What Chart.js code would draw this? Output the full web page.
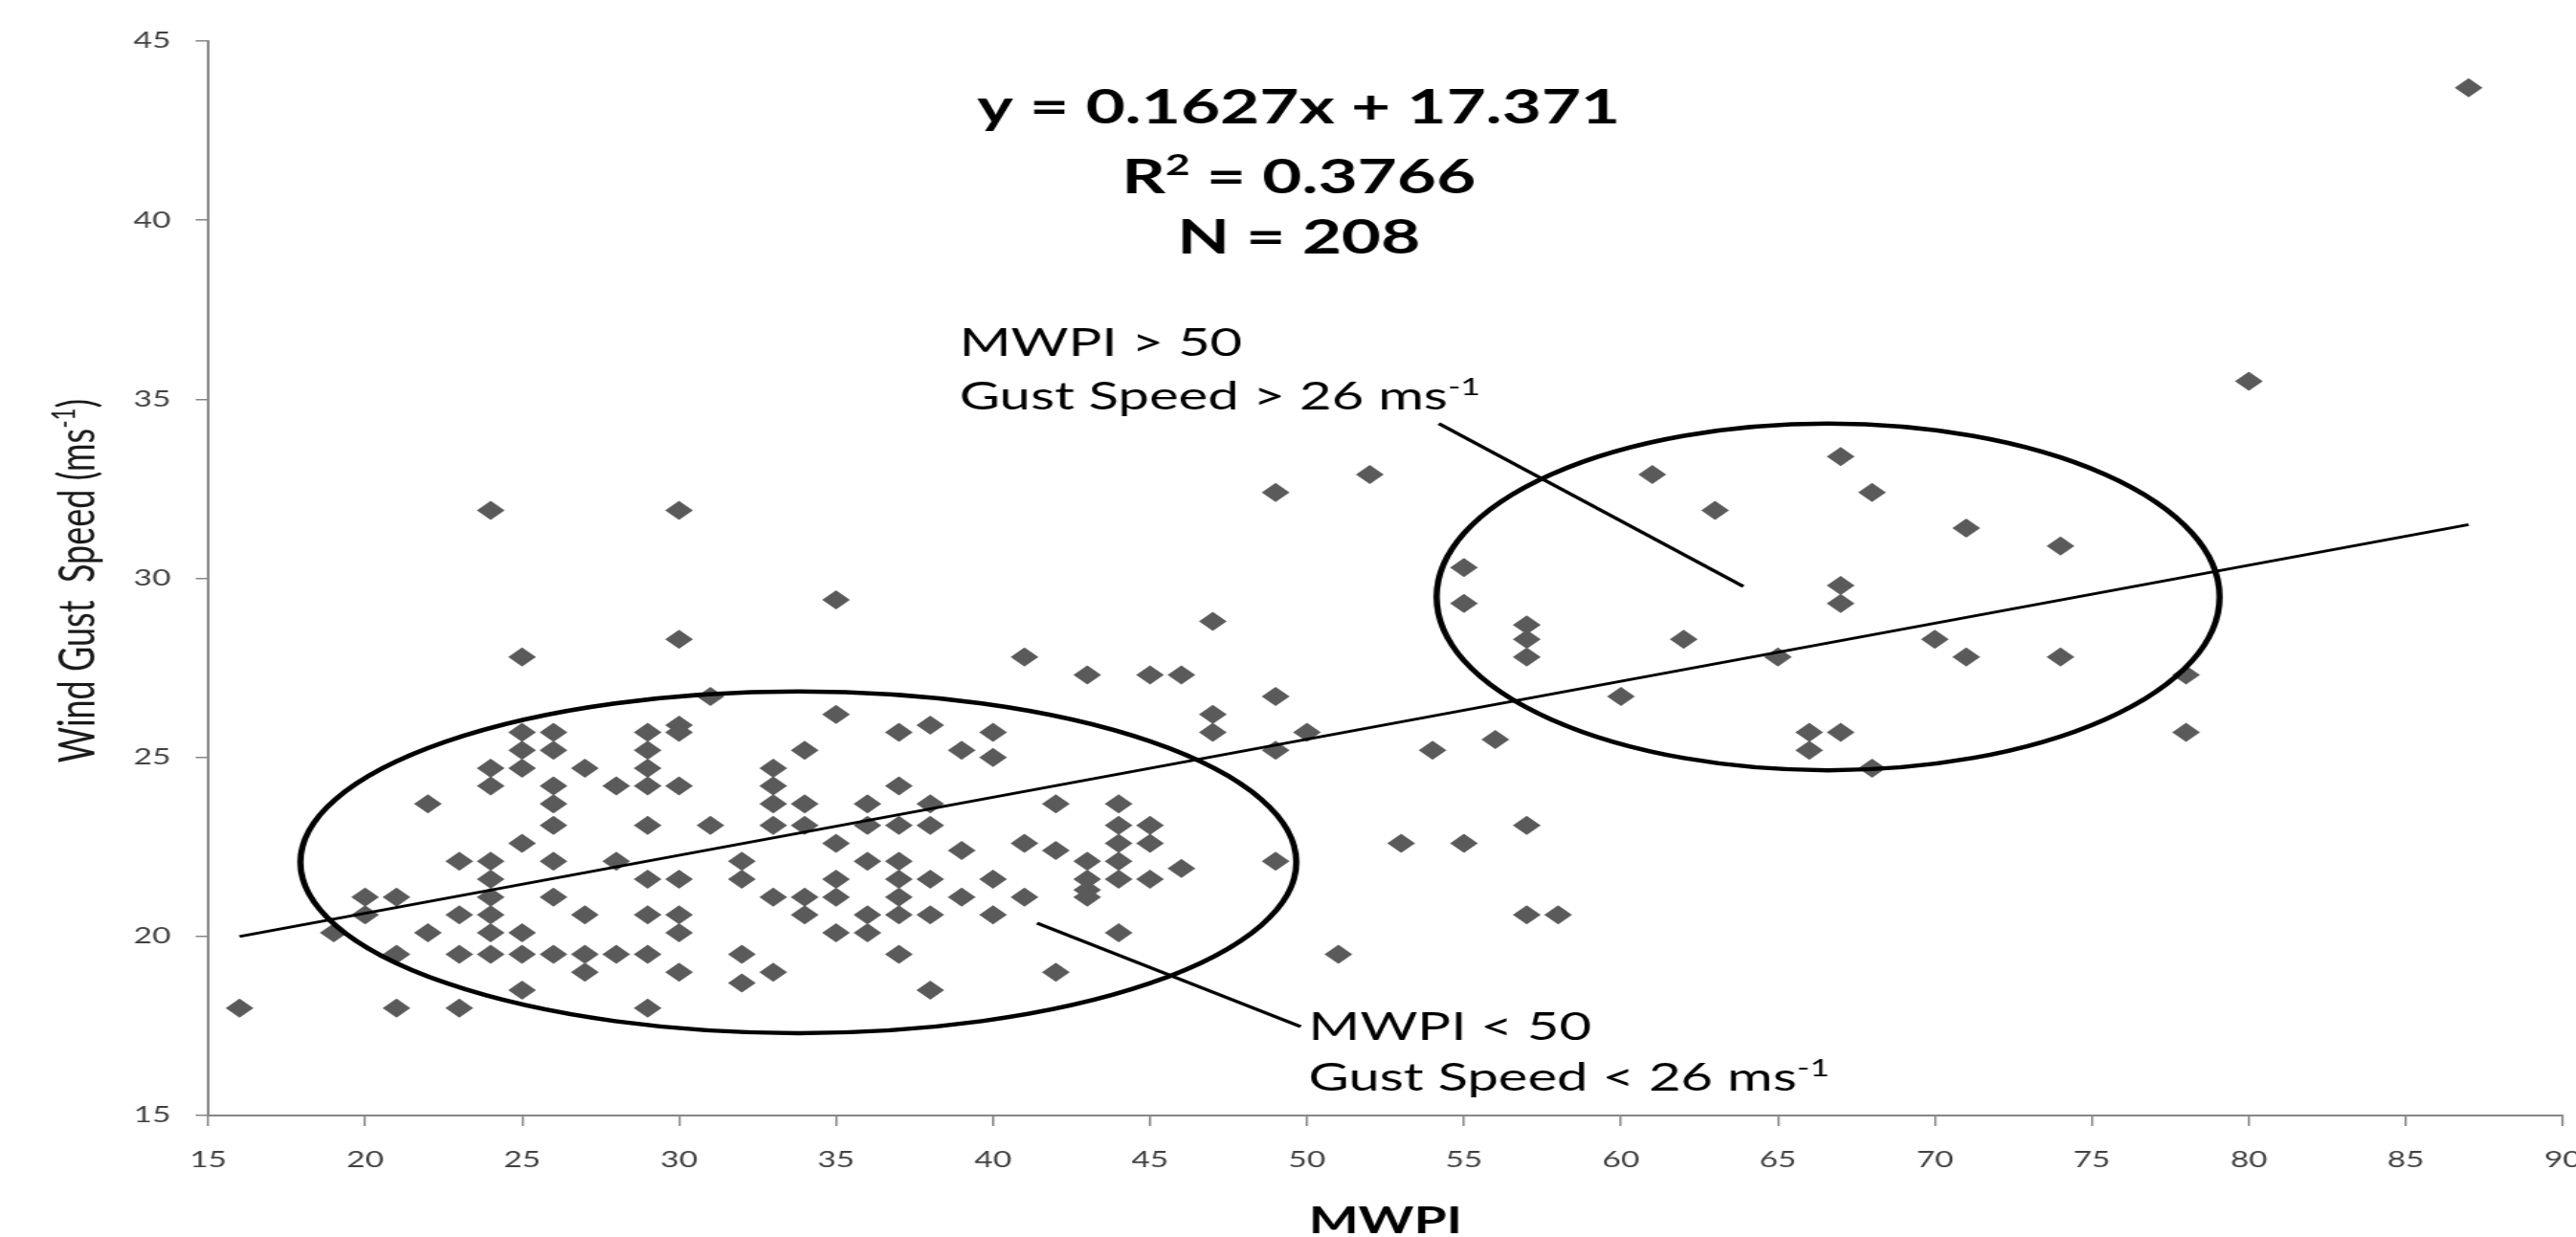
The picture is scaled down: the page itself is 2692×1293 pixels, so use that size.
<!DOCTYPE html>
<html>
<head>
<meta charset="utf-8">
<title>Wind Gust Speed vs MWPI</title>
<script src="https://cdn.jsdelivr.net/npm/chart.js@4.4.1/dist/chart.umd.min.js"></script>
<style>
    html, body { margin: 0; padding: 0; background: #fff; overflow: hidden; }
    /* la imagen original está estirada en horizontal, se imita con scaleX */
    #contenedor { width: 1857px; height: 1293px; transform: scaleX(1.45); transform-origin: 0 0; }
</style>
</head>
<body>
<div id="contenedor"><canvas id="grafica"></canvas></div>
<script>
// Datos: MWPI (x) y racha de viento en m/s (y)
const mwpi = [
    16, 19, 20, 20, 21, 21, 21, 22, 22, 23, 23, 23, 23,
    24, 24, 24, 24, 24, 24, 24, 24, 24,
    25, 25, 25, 25, 25, 25, 25, 25,
    26, 26, 26, 26, 26, 26, 26, 26,
    27, 27, 27, 27, 28, 28, 28,
    29, 29, 29, 29, 29, 29, 29, 29, 29,
    30, 30, 30, 30, 30, 30, 30, 30, 30,
    31, 31, 32, 32, 32, 32,
    33, 33, 33, 33, 33, 33,
    34, 34, 34, 34, 34,
    35, 35, 35, 35, 35, 35,
    36, 36, 36, 36, 36,
    37, 37, 37, 37, 37, 37, 37, 37,
    38, 38, 38, 38, 38, 38,
    39, 39, 39, 40, 40, 40, 40, 41, 41, 41, 42, 42, 42,
    43, 43, 43, 43, 43, 44, 44, 44, 44, 44, 44,
    45, 45, 45, 45, 46, 46, 47, 47, 47,
    49, 49, 49, 49, 50, 51, 52, 53, 54, 55, 55, 55, 56,
    57, 57, 57, 57, 57, 58, 60, 61, 62, 63, 65, 66, 66,
    67, 67, 67, 67, 68, 68, 70, 71, 71, 74, 74, 78, 78, 80, 87
];
const rachas = [
    18.0, 20.1, 21.1, 20.6, 21.1, 19.5, 18.0, 23.7, 20.1, 22.1, 20.6, 19.5, 18.0,
    31.9, 24.7, 24.2, 22.1, 21.6, 21.1, 20.6, 20.1, 19.5,
    27.8, 25.7, 25.2, 24.7, 22.6, 20.1, 19.5, 18.5,
    25.7, 25.2, 24.2, 23.7, 23.1, 22.1, 21.1, 19.5,
    24.7, 20.6, 19.5, 19.0, 24.2, 22.1, 19.5,
    25.7, 25.2, 24.7, 24.2, 23.1, 21.6, 20.6, 19.5, 18.0,
    31.9, 28.3, 25.9, 25.7, 24.2, 21.6, 20.6, 20.1, 19.0,
    26.7, 23.1, 22.1, 21.6, 19.5, 18.7,
    24.7, 24.2, 23.7, 23.1, 21.1, 19.0,
    25.2, 23.7, 23.1, 21.1, 20.6,
    29.4, 26.2, 22.6, 21.6, 21.1, 20.1,
    23.7, 23.1, 22.1, 20.6, 20.1,
    25.7, 24.2, 23.1, 22.1, 21.6, 21.1, 20.6, 19.5,
    25.9, 23.7, 23.1, 21.6, 20.6, 18.5,
    25.2, 22.4, 21.1, 25.7, 25.0, 21.6, 20.6, 27.8, 22.6, 21.1, 23.7, 22.4, 19.0,
    27.3, 22.1, 21.6, 21.3, 21.1, 23.7, 23.1, 22.6, 22.1, 21.6, 20.1,
    27.3, 23.1, 22.6, 21.6, 27.3, 21.9, 28.8, 26.2, 25.7,
    32.4, 26.7, 25.2, 22.1, 25.7, 19.5, 32.9, 22.6, 25.2, 30.3, 29.3, 22.6, 25.5,
    28.7, 28.3, 27.8, 23.1, 20.6, 20.6, 26.7, 32.9, 28.3, 31.9, 27.8, 25.7, 25.2,
    33.4, 29.8, 29.3, 25.7, 32.4, 24.7, 28.3, 31.4, 27.8, 30.9, 27.8, 27.3, 25.7, 35.5, 43.7
];

// Extremos de la línea de tendencia (y = 0.1627x + 17.371)
const tendenciaX = [16, 87];
const tendenciaY = [20.0, 31.5];

// Ticks de los ejes
const ticksX = [15, 20, 25, 30, 35, 40, 45, 50, 55, 60, 65, 70, 75, 80, 85, 90];
const ticksY = [15, 20, 25, 30, 35, 40, 45];

// Elipses y líneas de llamada en unidades de datos
const elipses = [
    { cx: 33.8, cy: 22.07, a: 15.86, b: 4.77 },
    { cx: 66.6, cy: 29.48, a: 12.47, b: 4.84 }
];
const llamadas = [
    [54.2, 34.32, 63.9, 29.77],
    [41.4, 20.37, 49.8, 17.48]
];

const FUENTE = 'Lato, "Open Sans", sans-serif';

// Dibuja texto con partes en superíndice
function textoRico(ctx, partes, x, y, talla, negrita, alinear) {
    const peso = negrita ? 'bold ' : '';
    let total = 0;
    partes.forEach(p => {
        ctx.font = peso + (p.sup ? talla * 0.62 : talla) + 'px ' + FUENTE;
        p.w = ctx.measureText(p.t).width;
        total += p.w;
    });
    let px = alinear === 'center' ? x - total / 2 : x;
    partes.forEach(p => {
        ctx.font = peso + (p.sup ? talla * 0.62 : talla) + 'px ' + FUENTE;
        ctx.fillText(p.t, px, p.sup ? y - talla * 0.38 : y);
        px += p.w;
    });
}

const anotaciones = {
    id: 'anotaciones',
    afterDraw(chart) {
        const { ctx, chartArea } = chart;
        const x = chart.scales.x, y = chart.scales.y;
        ctx.save();
        ctx.strokeStyle = '#000';
        ctx.fillStyle = '#000';

        elipses.forEach(e => {
            const cx = x.getPixelForValue(e.cx), cy = y.getPixelForValue(e.cy);
            const rx = x.getPixelForValue(e.cx + e.a) - cx;
            const ry = cy - y.getPixelForValue(e.cy + e.b);
            ctx.beginPath();
            ctx.ellipse(cx, cy, rx, ry, 0, 0, Math.PI * 2);
            ctx.lineWidth = 4.5;
            ctx.stroke();
        });

        llamadas.forEach(l => {
            ctx.beginPath();
            ctx.moveTo(x.getPixelForValue(l[0]), y.getPixelForValue(l[1]));
            ctx.lineTo(x.getPixelForValue(l[2]), y.getPixelForValue(l[3]));
            ctx.lineWidth = 3.2;
            ctx.stroke();
        });

        ctx.textBaseline = 'alphabetic';
        ctx.textAlign = 'left';

        // Ecuación de la regresión
        const cEq = x.getPixelForValue(49.74);
        textoRico(ctx, [{ t: 'y = 0.1627x + 17.371' }], cEq, y.getPixelForValue(42.70), 49, true, 'center');
        textoRico(ctx, [{ t: 'R' }, { t: '2', sup: true }, { t: ' = 0.3766' }], cEq, y.getPixelForValue(40.75), 49, true, 'center');
        textoRico(ctx, [{ t: 'N = 208' }], cEq, y.getPixelForValue(39.07), 49, true, 'center');

        // Grupo superior
        const xa = x.getPixelForValue(38.93);
        textoRico(ctx, [{ t: 'MWPI > 50' }], xa, y.getPixelForValue(36.21), 40, false, 'left');
        textoRico(ctx, [{ t: 'Gust Speed > 26 ms' }, { t: '-1', sup: true }], xa, y.getPixelForValue(34.72), 40, false, 'left');

        // Grupo inferior
        const xb = x.getPixelForValue(50.05);
        textoRico(ctx, [{ t: 'MWPI < 50' }], xb, y.getPixelForValue(17.11), 40, false, 'left');
        textoRico(ctx, [{ t: 'Gust Speed < 26 ms' }, { t: '-1', sup: true }], xb, y.getPixelForValue(15.69), 40, false, 'left');

        // Título eje X
        textoRico(ctx, [{ t: 'MWPI' }], (chartArea.left + chartArea.right) / 2, chartArea.bottom + 123, 38, true, 'center');

        // Título eje Y (rotado)
        ctx.save();
        ctx.translate(68, y.getPixelForValue(29.93));
        ctx.rotate(-Math.PI / 2);
        ctx.fillStyle = '#1a1a1a';
        textoRico(ctx, [{ t: 'Wind Gust  Speed (ms' }, { t: '-1', sup: true }, { t: ')' }], 0, 0, 36, false, 'center');
        ctx.restore();

        ctx.restore();
    }
};

const puntos = mwpi.map((v, i) => ({ x: v, y: rachas[i] }));
const tendencia = tendenciaX.map((v, i) => ({ x: v, y: tendenciaY[i] }));

const colorEje = '#868686';
const fuenteTicks = { family: FUENTE, size: 23 };

new Chart(document.getElementById('grafica'), {
    type: 'scatter',
    data: {
        datasets: [
            {
                label: 'Tendencia',
                data: tendencia,
                showLine: true,
                borderColor: '#000',
                borderWidth: 3,
                pointRadius: 0,
                fill: false
            },
            {
                label: 'Wind Gust Speed',
                data: puntos,
                pointStyle: 'rectRot',
                pointRadius: 10,
                pointHoverRadius: 10,
                backgroundColor: '#5a5a5a',
                borderWidth: 0
            }
        ]
    },
    options: {
        responsive: true,
        maintainAspectRatio: false,
        animation: false,
        devicePixelRatio: 1,
        events: [],
        layout: { padding: { top: 43, right: 9, bottom: 0, left: 0 } },
        plugins: { legend: { display: false }, tooltip: { enabled: false } },
        scales: {
            x: {
                type: 'linear',
                min: ticksX[0],
                max: ticksX[ticksX.length - 1],
                afterBuildTicks: s => { s.ticks = ticksX.map(v => ({ value: v })); },
                afterFit: s => { s.height = 127; s.paddingLeft = 0; s.paddingRight = 0; },
                ticks: { font: fuenteTicks, color: '#404040', padding: 22, maxRotation: 0, autoSkip: false },
                grid: { drawOnChartArea: false, drawTicks: true, tickLength: 11, color: colorEje, lineWidth: 1.5 },
                border: { color: colorEje, width: 2 }
            },
            y: {
                type: 'linear',
                min: ticksY[0],
                max: ticksY[ticksY.length - 1],
                afterBuildTicks: s => { s.ticks = ticksY.map(v => ({ value: v })); },
                afterFit: s => { s.width = 150; s.paddingTop = 0; s.paddingBottom = 0; },
                ticks: { font: fuenteTicks, color: '#404040', padding: 18 },
                grid: { drawOnChartArea: false, drawTicks: true, tickLength: 9, color: colorEje, lineWidth: 1.5 },
                border: { color: colorEje, width: 2 }
            }
        }
    },
    plugins: [anotaciones]
});
</script>
</body>
</html>
